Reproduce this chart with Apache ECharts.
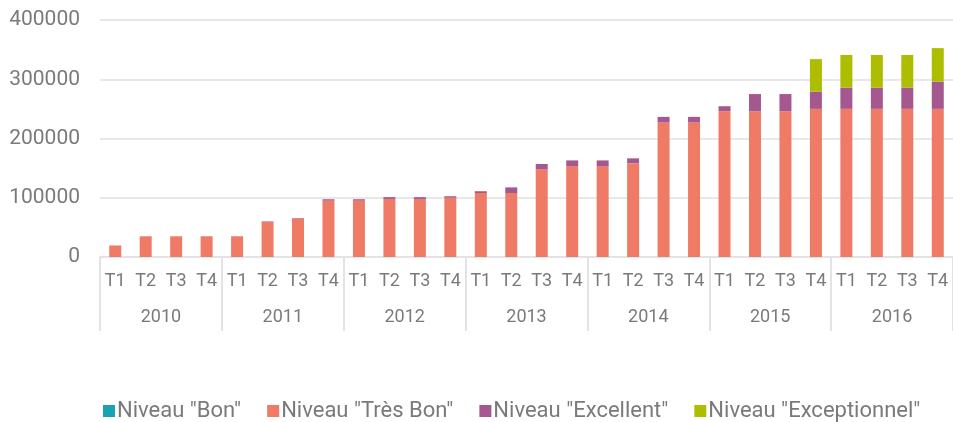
<!DOCTYPE html>
<html>
<head>
<meta charset="utf-8">
<script src="https://cdn.jsdelivr.net/npm/echarts@6/dist/echarts.min.js"></script>
<style>html,body{margin:0;padding:0;background:#fff}#c{width:953px;height:422px}</style>
</head>
<body>
<div id="c"></div>
<script>
const years = ['2010','2011','2012','2013','2014','2015','2016'];
const quarters = ['T1','T2','T3','T4'];
const categories = [];
years.forEach(function(){ quarters.forEach(function(q){ categories.push(q); }); });
const seriesNames = ['Niveau "Bon"','Niveau "Très Bon"','Niveau "Excellent"','Niveau "Exceptionnel"'];
const bon = [0,0,0,0, 0,0,0,0, 0,0,0,0, 0,0,0,0, 0,0,0,0, 0,0,0,0, 0,0,0,0];
const tresBon = [19500,35000,35000,35000, 35000,59000,64500,95000, 95000,98000,98000,100000, 108000,108000,148000,153000, 153000,158000,227000,227000, 246000,246000,246000,250000, 250000,250000,250000,250000];
const excellent = [0,0,0,0, 0,1000,1000,2500, 2500,3000,3000,2500, 3000,9500,9000,10000, 10000,8500,9500,9500, 8500,29000,29000,29000, 36000,36000,36000,46000];
const exceptionnel = [0,0,0,0, 0,0,0,0, 0,0,0,0, 0,0,0,0, 0,0,0,0, 0,0,0,55000, 55000,55000,55000,56500];
const colors = ['#17a3b2','#ef7b66','#a5588f','#adbd00'];
const yTicks = [0,100000,200000,300000,400000];

const chart = echarts.init(document.getElementById('c'));
const font = 'Roboto';
const grey = '#7a7a7a';
function bar(name, data, color){
  return {name:name, type:'bar', stack:'total', data:data, barWidth:12,
    itemStyle:{color:color}, emphasis:{disabled:true}};
}
chart.setOption({
  animation:false,
  color:colors,
  grid:{left:100, top:20, bottom:165, width:857, containLabel:false},
  legend:{
    data:seriesNames, left:98, top:395, icon:'rect', itemWidth:12, itemHeight:12,
    itemGap:26, textStyle:{fontFamily:font, fontSize:22, color:grey, padding:[0,0,0,-3]}
  },
  xAxis:[
    {type:'category', data:categories, position:'bottom',
     axisLine:{show:true, lineStyle:{color:'#e3e3e3', width:2}},
     axisTick:{show:false},
     axisLabel:{interval:0, margin:15, fontFamily:font, fontSize:18, color:grey}},
    {type:'category', data:years, position:'bottom', offset:0,
     axisLine:{show:false},
     axisTick:{show:true, length:74, interval:0, lineStyle:{color:'#e3e3e3', width:2}},
     axisLabel:{interval:0, margin:51, fontFamily:font, fontSize:18, color:grey}}
  ],
  yAxis:{type:'value', min:yTicks[0], max:yTicks[yTicks.length-1], interval:100000,
    axisLine:{show:false}, axisTick:{show:false},
    axisLabel:{margin:20, fontFamily:font, fontSize:21, color:grey, formatter:function(v){return String(v);}},
    splitLine:{lineStyle:{color:'#e8e8e8', width:2}}},
  series:[
    bar(seriesNames[0], bon, colors[0]),
    bar(seriesNames[1], tresBon, colors[1]),
    bar(seriesNames[2], excellent, colors[2]),
    bar(seriesNames[3], exceptionnel, colors[3])
  ]
});
</script>
</body>
</html>
